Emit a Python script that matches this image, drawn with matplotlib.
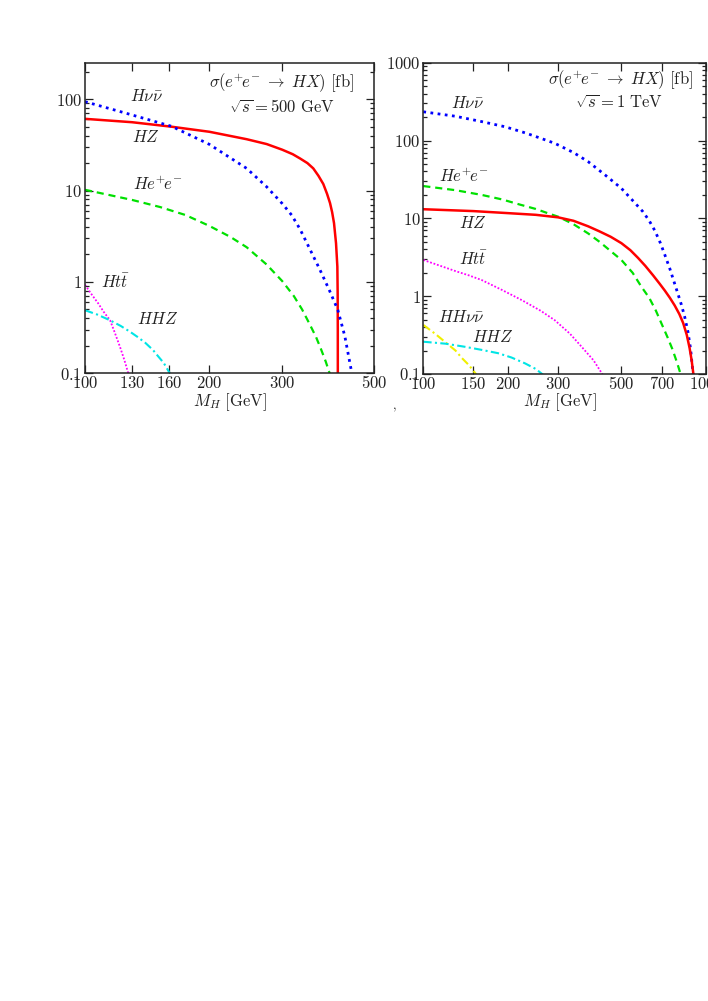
import matplotlib
matplotlib.use('Agg')
import matplotlib.pyplot as plt
from matplotlib.ticker import FixedLocator, FixedFormatter, LogLocator, NullFormatter, NullLocator

plt.rcParams['mathtext.fontset'] = 'cm'
plt.rcParams['font.family'] = ['DejaVu Serif']

# ---------------- data: sqrt(s) = 500 GeV ----------------
l_hz_x = [100, 130, 162, 200, 246, 275, 300, 318, 331, 345, 356.5, 367, 377, 385, 391.4, 396, 400.2, 404.7, 407.7, 408.4, 408.7, 408.8]
l_hz_y = [61, 56, 50, 44, 36.5, 32.3, 28, 25, 22.5, 20, 17.5, 14.5, 11.8, 9.2, 7.3, 5.8, 4.4, 2.65, 1.47, 0.75, 0.3, 0.05]

l_hnn_x = [100, 126, 162, 200, 246, 275, 300, 316, 331, 345, 370, 390, 408.7, 425, 441.6, 445]
l_hnn_y = [94, 70, 50.5, 32, 17.5, 11, 7.2, 5.4, 3.8, 2.6, 1.36, 0.81, 0.495, 0.255, 0.102, 0.09]

l_hee_x = [100, 130, 152, 175, 200, 225, 246, 275, 300, 320, 335, 350, 362, 372, 382, 392]
l_hee_y = [10.2, 7.9, 6.6, 5.4, 4.1, 3.1, 2.4, 1.55, 1.02, 0.7, 0.5, 0.34, 0.25, 0.185, 0.135, 0.095]

l_htt_x = [100, 104, 107.7, 111, 115, 118, 121.5, 124.5, 127.5]
l_htt_y = [0.93, 0.72, 0.58, 0.47, 0.38, 0.28, 0.195, 0.14, 0.097]

l_hhz_x = [100, 107, 115, 122, 128.5, 134, 140, 146, 150, 155, 161]
l_hhz_y = [0.49, 0.44, 0.38, 0.33, 0.285, 0.25, 0.215, 0.18, 0.155, 0.13, 0.097]

# ---------------- data: sqrt(s) = 1 TeV ----------------
r_hnn_x = [100, 130, 161, 195, 230, 260, 292, 340, 383, 440, 502, 550, 598, 630, 660, 690, 715, 745, 770, 795, 818, 840, 863, 882, 900]
r_hnn_y = [234, 205, 175, 150, 125, 107, 92, 70, 53.5, 36, 24.3, 17, 12.2, 9.3, 6.9, 4.8, 3.4, 2.25, 1.55, 1.08, 0.78, 0.55, 0.35, 0.21, 0.1]

r_hee_x = [100, 130, 161, 190, 220, 250, 276.5, 300, 340, 383, 420, 460, 502, 550, 591, 630, 665, 695, 730, 760, 790, 815]
r_hee_y = [26, 23, 20, 17.5, 15, 13.2, 11.6, 10.5, 8.4, 6.4, 5.0, 3.8, 2.92, 2.0, 1.32, 0.95, 0.65, 0.45, 0.3, 0.21, 0.14, 0.097]

r_hz_x = [100, 150, 197, 250, 300, 340, 383, 420, 460, 502, 540, 575, 610, 650, 685, 715, 745, 775, 805, 830, 855, 875, 890, 905]
r_hz_y = [13.1, 12.4, 11.7, 11.1, 10.3, 9.3, 7.9, 6.8, 5.8, 4.8, 3.9, 3.1, 2.45, 1.85, 1.45, 1.18, 0.953, 0.759, 0.588, 0.453, 0.318, 0.215, 0.148, 0.092]

r_htt_x = [100, 115, 130, 145, 161, 190, 223, 260, 292, 330, 363, 400, 432]
r_htt_y = [2.92, 2.45, 2.1, 1.85, 1.61, 1.2, 0.89, 0.65, 0.49, 0.33, 0.224, 0.15, 0.097]

r_hhnn_x = [100, 110, 121, 130, 137, 145, 154.5]
r_hhnn_y = [0.427, 0.33, 0.248, 0.2, 0.16, 0.13, 0.097]

r_hhz_x = [100, 120, 140, 160, 184, 205, 229, 250, 266]
r_hhz_y = [0.26, 0.245, 0.224, 0.205, 0.185, 0.163, 0.137, 0.116, 0.097]

l_xticks = [100, 130, 160, 200, 300, 500]
r_xticks = [100, 150, 200, 300, 500, 700, 1000]
l_yticks = [0.1, 1, 10, 100]
r_yticks = [0.1, 1, 10, 100, 1000]
ytick_labels = {0.1: '0.1', 1: '1', 10: '10', 100: '100', 1000: '1000'}

W, H = 708, 1001
fig = plt.figure(figsize=(W / 100, H / 100), dpi=100)


def px_axes(x0, y0, x1, y1):
    return fig.add_axes([x0 / W, 1 - y1 / H, (x1 - x0) / W, (y1 - y0) / H])


def ftext(x, y, s, size=12, **kw):
    fig.text(x / W, 1 - y / H, s, ha='center', va='center', fontsize=size, **kw)


RED = '#ff0000'
BLUE = '#0000ff'
GREEN = '#00e000'
MAG = '#ff00ff'
CYAN = '#00e5e5'
YEL = '#f0f000'

styles = {
    'hz': dict(color=RED, lw=1.8, ls='-'),
    'hnn': dict(color=BLUE, lw=2.0, ls=(0, (1, 1.6))),
    'hee': dict(color=GREEN, lw=1.6, ls=(0, (3.2, 2.2))),
    'htt': dict(color=MAG, lw=1.3, ls=(0, (1, 1))),
    'hhz': dict(color=CYAN, lw=1.5, ls=(0, (4, 1.6, 1, 1.6))),
    'hhnn': dict(color=YEL, lw=1.5, ls=(0, (4, 1.6, 1, 1.6))),
}


def setup(ax, xlim, ylim, xticks, yticks):
    ax.set_xscale('log')
    ax.set_yscale('log')
    ax.set_xlim(*xlim)
    ax.set_ylim(*ylim)
    ax.xaxis.set_major_locator(FixedLocator(xticks))
    ax.xaxis.set_major_formatter(FixedFormatter(['$%d$' % t for t in xticks]))
    ax.xaxis.set_minor_locator(NullLocator())
    ax.yaxis.set_major_locator(FixedLocator(yticks))
    ax.yaxis.set_major_formatter(FixedFormatter(['$%s$' % ytick_labels[t] for t in yticks]))
    ax.yaxis.set_minor_locator(LogLocator(base=10, subs=range(2, 10), numticks=50))
    ax.yaxis.set_minor_formatter(NullFormatter())
    ax.tick_params(which='both', direction='in', top=True, right=True, width=0.9,
                   labelsize=12, colors='#222222')
    ax.tick_params(which='major', length=5.5)
    ax.tick_params(which='minor', length=2.8)
    ax.tick_params(axis='x', pad=1.5)
    ax.tick_params(axis='y', pad=2)
    for s in ax.spines.values():
        s.set_linewidth(1.1)
        s.set_color('#222222')


ax1 = px_axes(85, 62.7, 374, 373.3)
ax2 = px_axes(423.3, 62.7, 706, 374)

setup(ax1, (100, 500), (0.1, 251), l_xticks, l_yticks)
setup(ax2, (100, 1000), (0.1, 1000), r_xticks, r_yticks)

ax1.plot(l_hz_x, l_hz_y, **styles['hz'])
ax1.plot(l_hnn_x, l_hnn_y, **styles['hnn'])
ax1.plot(l_hee_x, l_hee_y, **styles['hee'])
ax1.plot(l_htt_x, l_htt_y, **styles['htt'])
ax1.plot(l_hhz_x, l_hhz_y, **styles['hhz'])

ax2.plot(r_hnn_x, r_hnn_y, **styles['hnn'])
ax2.plot(r_hee_x, r_hee_y, **styles['hee'])
ax2.plot(r_hz_x, r_hz_y, **styles['hz'])
ax2.plot(r_htt_x, r_htt_y, **styles['htt'])
ax2.plot(r_hhnn_x, r_hhnn_y, **styles['hhnn'])
ax2.plot(r_hhz_x, r_hhz_y, **styles['hhz'])

TXT = '#222222'
SIG = r'$\sigma(e^{+}\!e^{-}\;\to\;HX)\ [\mathrm{fb}]$'
HEE = r'$He^{+}\!e^{-}$'
# left panel annotations
ftext(281, 83, SIG, color=TXT)
ftext(282, 108, r'$\sqrt{s}=500\ \mathrm{GeV}$', color=TXT)
ftext(146, 97, r'$H\nu\bar{\nu}$', color=TXT)
ftext(145.5, 137, r'$HZ$', color=TXT)
ftext(158, 185, HEE, color=TXT)
ftext(115, 283, r'$Ht\bar{t}$', color=TXT)
ftext(158, 320, r'$HHZ$', color=TXT)
# right panel annotations
ftext(620, 80, SIG, color=TXT)
ftext(619, 103, r'$\sqrt{s}=1\ \mathrm{TeV}$', color=TXT)
ftext(467.5, 103, r'$H\nu\bar{\nu}$', color=TXT)
ftext(464, 177, HEE, color=TXT)
ftext(472.5, 223, r'$HZ$', color=TXT)
ftext(473, 260, r'$Ht\bar{t}$', color=TXT)
ftext(461, 317, r'$HH\nu\bar{\nu}$', color=TXT)
ftext(493, 337, r'$HHZ$', color=TXT)
# axis titles
ftext(230, 402, r'$M_H\ [\mathrm{GeV}]$', color=TXT)
ftext(560, 402, r'$M_H\ [\mathrm{GeV}]$', color=TXT)
ftext(394, 407, r'$,$', size=9, color=TXT)

fig.savefig('out.png', dpi=100)
